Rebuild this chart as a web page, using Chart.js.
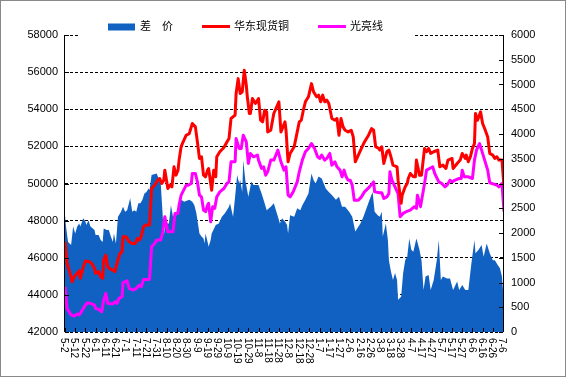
<!DOCTYPE html>
<html><head><meta charset="utf-8">
<script src="https://cdn.jsdelivr.net/npm/chart.js@4/dist/chart.umd.min.js"></script>
<style>html,body{margin:0;padding:0;background:#fff}</style>
</head><body>
<canvas id="c" width="566" height="377"></canvas>
<script>
// X tick labels (every 10 calendar days starting 5-2)
const tickLabels = ['5-2','5-12','5-22','6-1','6-11','6-21','7-1','7-11','7-21','7-31','8-10','8-20','8-30','9-9','9-19','9-29','10-9','10-19','10-29','11-8','11-18','11-28','12-8','12-18','12-28','1-7','1-17','1-27','2-6','2-16','2-26','3-8','3-18','3-28','4-7','4-17','4-27','5-7','5-17','5-27','6-6','6-16','6-26','7-6'];
const seriesNames = ['差\u3000价','华东现货铜','光亮线'];

// 差价 (right axis): day offset from 5-2, value
const spreadDays = [0,1,3,6,8,10,12,14,15,18,20,21,23,25,29,30,33,35,37,38,41,43,45,47,48,50,52,55,57,59,61,64,66,68,70,72,74,76,78,80,82,83,85,90,92,94,96,97,99,102,104,106,107,109,110,112,114,117,122,125,127,129,132,134,136,137,138,140,141,143,144,148,151,154,157,161,162,165,167,169,171,172,174,175,177,180,183,185,190,193,196,198,202,205,208,211,213,216,218,219,221,225,228,231,233,236,239,242,244,246,249,252,256,259,262,266,269,272,275,279,282,285,290,293,296,299,302,304,307,309,311,312,315,317,318,320,322,324,326,327,330,332,334,336,338,340,342,345,348,350,352,354,357,359,362,365,367,369,371,375,378,381,385,387,390,393,396,399,402,403,406,409,411,414,417,420,422,425,427,429,430,431];
const spreadVals = [2360,2130,1820,1760,2130,1990,2130,2190,2130,2300,2230,2160,2260,2130,2060,1960,1960,1860,1820,2090,2060,2060,1930,1820,1990,1790,2330,2430,2530,2430,2460,2700,2430,2460,2430,2600,2600,2670,2800,2830,2900,2870,3170,3200,3100,3000,2330,1960,2190,2190,2560,2330,2360,2330,2500,2530,2670,2630,2670,2630,2560,2400,1990,1930,1890,1790,1990,1820,1720,1860,1990,2160,2190,2330,2400,2530,2600,2330,2730,3170,3000,3070,2830,3470,3070,2730,3040,2970,2970,2800,2600,2460,2530,2600,2400,2190,2300,2230,2160,1990,2360,2330,2500,2460,2560,2670,2800,3200,3070,3000,3140,3100,2900,2830,2770,2670,2730,2530,2530,2430,2330,2030,2190,2330,2500,2670,2830,2430,2360,2330,2430,1930,2190,1860,1450,1220,1050,1190,1050,650,710,1190,1450,1520,1890,1660,1620,1890,1660,1450,850,1120,1150,850,1050,1450,1860,1050,1120,1080,1080,850,1020,850,950,850,850,1390,1860,1590,1660,1760,1520,1790,1590,1450,1450,1350,1290,1120,850,510];

// 华东现货铜 (left axis)
const copperDays = [0,2,5,7,9,12,14,15,18,20,24,26,29,30,33,35,37,38,40,42,45,47,49,51,54,56,57,60,63,66,69,71,73,75,77,79,83,85,88,91,93,95,97,98,101,103,105,107,109,111,112,114,116,119,122,125,128,130,132,134,136,138,140,141,144,146,148,149,152,156,159,161,163,167,168,170,172,174,176,178,179,181,182,184,187,190,192,194,196,198,199,202,205,210,212,216,217,219,221,225,227,230,232,234,236,239,242,244,247,249,251,253,255,257,259,262,265,267,269,271,273,275,278,281,283,285,288,291,294,298,301,303,305,308,309,311,313,316,318,320,322,326,327,330,331,334,336,337,339,342,344,345,348,350,353,355,357,359,362,366,368,371,374,376,380,381,385,388,390,393,394,396,398,400,402,403,405,408,410,412,415,417,420,422,424,426,429,431];
const copperVals = [46860,45700,45160,44710,44980,45160,45300,44890,45510,45820,45790,45700,45430,45160,45250,44980,44890,45880,46140,45510,45370,45340,45250,45700,46230,46320,47130,47130,46860,46770,46770,47040,46950,47170,47670,47760,47760,49730,49910,50180,50270,50000,50180,50720,49730,49910,49820,50900,50450,50720,51260,51980,52240,52600,52690,53230,53050,52240,51350,51440,50450,50360,50720,50810,49640,50720,50360,51440,51710,51940,52240,52420,53500,53680,54850,55650,54850,54940,56100,55290,54670,53770,53770,54580,54310,54580,53410,53320,53950,53860,52780,52870,53770,54400,52780,53320,52870,51170,51620,51980,52510,53320,53410,53950,54400,54670,55380,54940,54670,54760,54400,54760,54400,54490,54310,53500,53410,53500,52600,53500,53050,52870,52780,52870,52510,51170,51530,51890,52240,52600,52960,52870,51980,51890,51800,51980,51080,51710,51800,51440,50990,50900,50180,48930,49370,49820,50000,50270,50540,50360,50360,51260,50450,50450,51890,51710,51890,51620,51710,51800,50900,50990,50810,51260,51350,50810,51080,51260,51620,51350,51530,51170,51440,51890,52150,53770,53410,53860,53230,52960,52510,51620,51530,51350,51440,51260,51260,49800];

// 光亮线 (left axis)
const brightDays = [0,2,6,9,12,14,17,20,22,25,29,30,33,36,38,40,42,47,49,51,53,56,57,61,63,67,70,73,75,77,83,85,88,90,94,96,98,101,106,108,111,112,114,119,121,124,125,128,130,132,134,136,138,140,141,143,145,147,149,152,156,159,161,163,167,168,171,173,175,178,180,182,185,189,190,193,195,197,199,202,205,209,212,215,217,219,221,224,226,228,230,233,236,239,242,245,248,250,252,255,257,260,262,265,267,270,272,274,276,278,280,282,284,288,291,294,299,303,304,309,311,313,316,318,319,321,324,327,329,332,335,339,343,345,346,349,353,355,358,361,363,367,370,373,375,378,380,383,387,389,390,392,396,400,402,404,407,409,412,415,417,421,424,426,429,431];
const brightVals = [44440,43270,42920,42860,42970,42920,43180,43450,43580,43540,43450,43270,43220,43090,43720,44080,43540,43510,43630,43540,43810,43900,44660,44760,44350,44260,44350,44530,44440,44830,44830,46590,46770,46950,46950,47400,48210,47400,47400,48390,48390,48840,49370,49910,49910,50000,50540,50540,50090,49370,49280,48570,48480,48840,48930,47940,48750,48660,49280,49550,49730,50000,50090,51170,51170,52420,51890,51890,52600,52240,51080,51620,51440,51530,51260,50810,50900,50450,50630,51260,51260,51800,51170,50720,50900,49370,49280,49550,49820,50090,50630,51260,51710,51890,52150,51890,51440,51350,51530,51260,51350,51620,50990,51170,50900,50720,50360,50720,50360,50180,50180,49910,49100,49100,49280,49550,49820,50090,49550,49500,49500,49190,49280,49460,50630,50180,49820,49460,48210,48390,48480,48570,48750,48660,49370,48750,50000,50720,50810,50900,50540,50090,50000,49820,49910,50180,50090,50180,50270,50270,50720,50360,50360,50270,51260,51800,52150,51800,51260,50720,50040,49970,49910,49820,50000,48480];

const BLUE = '#1161C3', RED = '#FF0000', MAG = '#FF00FF';
const pts = (d, v) => d.map((x, i) => ({x, y: v[i]}));
const FONT = '"Liberation Sans", Arial, "Noto Sans CJK SC", sans-serif';

const deco = {
  id: 'deco',
  beforeDraw(chart) {
    const ctx = chart.ctx;
    ctx.save(); ctx.fillStyle = '#fff'; ctx.fillRect(0, 0, chart.width, chart.height); ctx.restore();
  },
  afterDatasetsDraw(chart) {
    const {ctx, chartArea: a, scales} = chart;
    ctx.save();
    ctx.strokeStyle = '#000'; ctx.lineWidth = 1; ctx.setLineDash([]);
    ctx.beginPath();
    ctx.moveTo(a.left - 0.5, a.top); ctx.lineTo(a.left - 0.5, a.bottom);
    ctx.moveTo(a.right - 0.5, a.top); ctx.lineTo(a.right - 0.5, a.bottom);
    scales.y.ticks.forEach(t => { const y = Math.round(scales.y.getPixelForValue(t.value)) + 0.5; ctx.moveTo(a.left, y); ctx.lineTo(a.left + 4, y); });
    scales.y2.ticks.forEach(t => { const y = Math.round(scales.y2.getPixelForValue(t.value)) + 0.5; ctx.moveTo(a.right - 5, y); ctx.lineTo(a.right - 1, y); });
    scales.x.ticks.forEach(t => { const x = Math.round(scales.x.getPixelForValue(t.value)) + 0.5; ctx.moveTo(x, a.bottom); ctx.lineTo(x, a.bottom - 4); });
    ctx.stroke();
    ctx.restore();
  },
  afterDraw(chart) {
    const {ctx, chartArea: a, scales} = chart;
    ctx.save();
    // x labels, rotated clockwise
    ctx.fillStyle = '#000';
    ctx.font = '10px ' + FONT;
    ctx.textAlign = 'left'; ctx.textBaseline = 'middle';
    scales.x.ticks.forEach((t, i) => {
      const x = scales.x.getPixelForValue(t.value);
      ctx.save(); ctx.translate(x - 1, a.bottom + 6); ctx.rotate(Math.PI / 2);
      ctx.fillText(tickLabels[i], 0, 0); ctx.restore();
    });
    // legend
    ctx.fillStyle = '#fff';
    ctx.fillRect(79, 12, 334, 24);
    ctx.font = '11px ' + FONT;
    let x = 108; const cy = 27;
    chart.data.datasets.forEach(ds => {
      if (ds.fill) {
        ctx.fillStyle = ds.backgroundColor; ctx.fillRect(x, cy - 3.5, 27, 7);
      } else {
        ctx.strokeStyle = ds.borderColor; ctx.lineWidth = 3; ctx.beginPath();
        ctx.moveTo(x, cy - 0.5); ctx.lineTo(x + 28, cy - 0.5); ctx.stroke();
      }
      ctx.fillStyle = '#000'; ctx.textBaseline = 'middle';
      ctx.fillText(ds.label, x + 32, cy);
      x += 32 + ctx.measureText(ds.label).width + 29;
    });
    // outer frame
    ctx.strokeStyle = '#888'; ctx.lineWidth = 1;
    ctx.strokeRect(0.5, 0.5, chart.width - 1, chart.height - 1);
    ctx.restore();
  }
};

new Chart(document.getElementById('c'), {
  type: 'line',
  data: {
    datasets: [
      { label: seriesNames[0], data: pts(spreadDays, spreadVals), yAxisID: 'y2', fill: 'origin', backgroundColor: BLUE, borderWidth: 0, pointRadius: 0, order: 3 },
      { label: seriesNames[1], data: pts(copperDays, copperVals), yAxisID: 'y', fill: false, borderColor: RED, backgroundColor: RED, borderWidth: 3, pointRadius: 0, order: 1, borderJoinStyle: 'round' },
      { label: seriesNames[2], data: pts(brightDays, brightVals), yAxisID: 'y', fill: false, borderColor: MAG, backgroundColor: MAG, borderWidth: 3, pointRadius: 0, order: 2, borderJoinStyle: 'round' }
    ]
  },
  options: {
    responsive: false, animation: false,
    layout: { padding: { top: 35, left: 0, right: 0, bottom: 0 } },
    plugins: { legend: { display: false }, tooltip: { enabled: false } },
    scales: {
      x: {
        type: 'linear', min: 0, max: 431,
        afterBuildTicks: s => { s.ticks = tickLabels.map((_, i) => ({ value: i * 10 })); },
        afterFit: s => { s.height = 45; },
        ticks: { display: false }, grid: { display: false }, border: { display: false }
      },
      y: {
        position: 'left', min: 42000, max: 58000,
        afterFit: s => { s.width = 65; },
        ticks: { stepSize: 2000, padding: 7, color: '#000', font: { family: FONT, size: 11 }, callback: v => String(v) },
        grid: { color: '#000', lineWidth: 1, drawTicks: false },
        border: { display: false, dash: [3, 2] }
      },
      y2: {
        position: 'right', min: 0, max: 6000,
        afterFit: s => { s.width = 62; },
        ticks: { stepSize: 500, padding: 7, color: '#000', font: { family: FONT, size: 11 }, callback: v => String(v) },
        grid: { drawOnChartArea: false, drawTicks: false },
        border: { display: false }
      }
    }
  },
  plugins: [deco]
});
</script>
</body></html>
